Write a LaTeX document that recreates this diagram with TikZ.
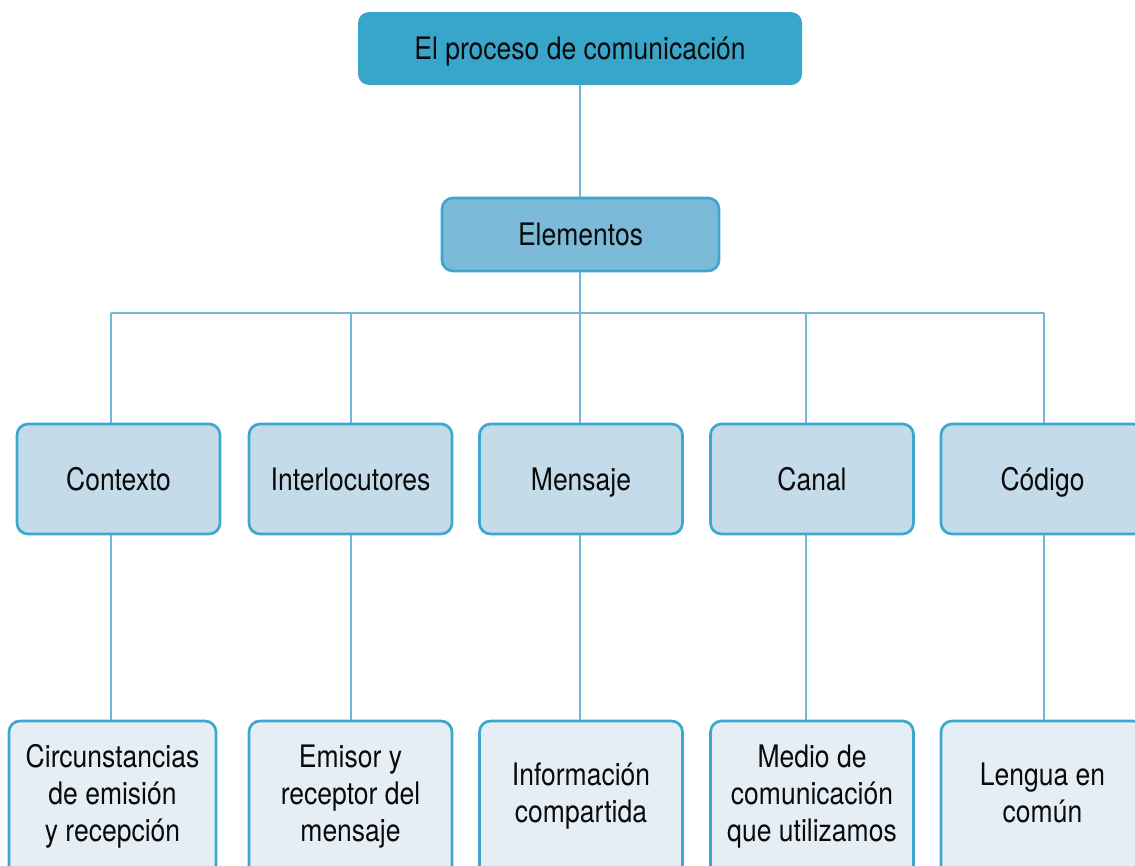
\documentclass[tikz,border=0pt]{standalone}
\usepackage{fontspec}
\setmainfont{TeX Gyre Heros}[FakeStretch=0.855]
\usetikzlibrary{backgrounds}
\definecolor{topfill}{HTML}{38A6CB}
\definecolor{elemfill}{HTML}{7BBAD8}
\definecolor{midfill}{HTML}{C4DCEA}
\definecolor{lowfill}{HTML}{E6EEF5}
\definecolor{edgeblue}{HTML}{3DA8CD}
\definecolor{linkblue}{HTML}{72B8D6}
\definecolor{txt}{HTML}{0A0A0A}
\tikzset{
  basebox/.style={rounded corners=11pt, align=center, text=txt,
    font=\fontsize{31}{37}\selectfont, inner sep=0pt},
  oneline/.style={text height=22pt, text depth=0pt},
  topbox/.style={basebox, oneline, fill=topfill, draw=none, minimum width=444pt, minimum height=73pt},
  elembox/.style={basebox, oneline, fill=elemfill, draw=edgeblue, line width=2.7pt, minimum width=277pt, minimum height=73pt},
  midbox/.style={basebox, oneline, fill=midfill, draw=edgeblue, line width=2.7pt, minimum width=203pt, minimum height=110pt},
  lowbox/.style={basebox, fill=lowfill, draw=edgeblue, line width=2.7pt, minimum width=203pt, minimum height=160pt,
    execute at begin node={\rule{0pt}{22pt}},
    execute at end node={\rule[-16pt]{0pt}{16pt}}},
  link/.style={draw=linkblue, line width=2.7pt}
}
\begin{document}
\begin{tikzpicture}[x=1pt,y=-1pt]
\useasboundingbox (0,0) rectangle (1135,865);
\node[topbox] (top) at (580,48.5) {El proceso de comunicación};
\node[elembox] (elem) at (580.5,234.5) {Elementos};
\node[midbox] (ctx) at (118.5,479) {Contexto};
\node[midbox] (inter) at (350.5,479) {Interlocutores};
\node[midbox] (mens) at (581,479) {Mensaje};
\node[midbox] (canal) at (812,479) {Canal};
\node[midbox] (cod) at (1042.5,479) {Código};
\node[lowbox, minimum width=207pt] (b1) at (112.5,801) {Circunstancias\\de emisión\\y recepción};
\node[lowbox] (b2) at (350.5,801) {Emisor y\\receptor del\\mensaje};
\node[lowbox] (b3) at (581,801) {Información\\compartida};
\node[lowbox] (b4) at (812,801) {Medio de\\comunicación\\que utilizamos};
\node[lowbox] (b5) at (1042.5,801) {Lengua en\\común};
\coordinate (hub) at (580,313);
\coordinate (j1) at (111,313);
\coordinate (j2) at (351,313);
\coordinate (j3) at (580,313);
\coordinate (j4) at (806,313);
\coordinate (j5) at (1044,313);
\begin{scope}[on background layer]
\draw[link] (hub |- top.south) -- (hub |- elem.north);
\draw[link] (hub |- elem.south) -- (hub);
\draw[link] (j1) -- (j5);
\draw[link] (j1) -- (j1 |- ctx.north);
\draw[link] (j2) -- (j2 |- inter.north);
\draw[link] (j3) -- (j3 |- mens.north);
\draw[link] (j4) -- (j4 |- canal.north);
\draw[link] (j5) -- (j5 |- cod.north);
\draw[link] (j1 |- ctx.south) -- (j1 |- b1.north);
\draw[link] (j2 |- inter.south) -- (j2 |- b2.north);
\draw[link] (j3 |- mens.south) -- (j3 |- b3.north);
\draw[link] (j4 |- canal.south) -- (j4 |- b4.north);
\draw[link] (j5 |- cod.south) -- (j5 |- b5.north);
\end{scope}
\end{tikzpicture}
\end{document}
